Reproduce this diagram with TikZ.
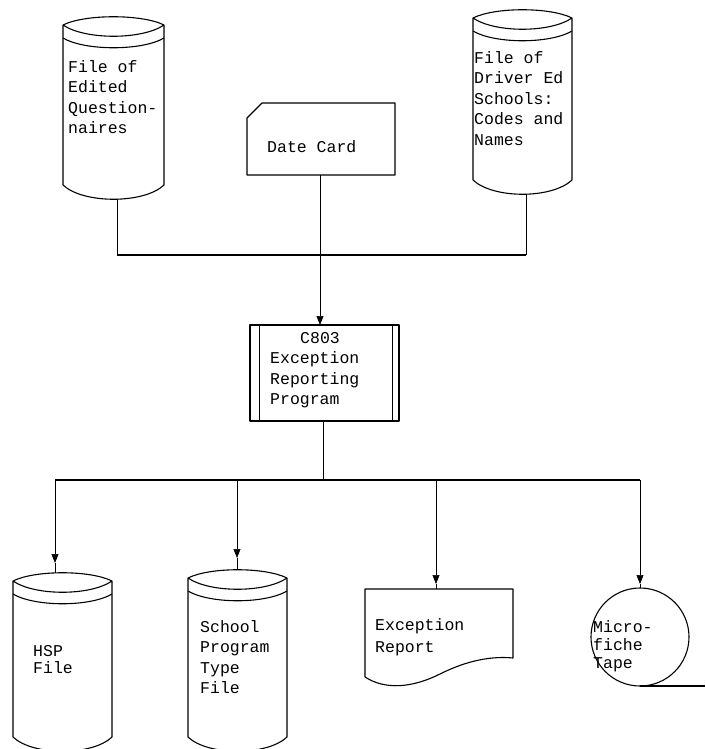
\documentclass[tikz,border=0pt]{standalone}
\usepackage{fontspec}
\setmonofont{Liberation Mono}
\usetikzlibrary{arrows.meta}
\tikzset{
 shp/.style={line width=1.1pt, line join=round},
 busline/.style={line width=2pt},
 conn/.style={line width=0.6pt},
 arr/.style={conn,-{Triangle[width=7pt,length=9pt]}},
 lbl/.style={font=\ttfamily\fontsize{16.5}{20.5}\selectfont, align=left, inner sep=0pt, anchor=north west},
}
\newcommand\drumshape[4]{%
  \draw[shp] (#1,#3) .. controls (#1+22,#3-11) and (#2-22,#3-11) .. (#2,#3)
     .. controls (#2-22,#3+15) and (#1+22,#3+15) .. (#1,#3) -- (#1,#4)
     .. controls (#1+20,#4+19) and (#2-20,#4+19) .. (#2,#4) -- (#2,#3);
  \draw[shp] (#1,#3+13) .. controls (#1+22,#3+26) and (#2-22,#3+26) .. (#2,#3+13);
}
\begin{document}
\begin{tikzpicture}[x=1pt,y=-1pt]
\useasboundingbox (0,0) rectangle (705,749);
\fill[white] (0,0) rectangle (705,749);

% ---- inputs ----
\drumshape{63}{164}{25}{185}
\node[lbl] (qtext) at (68,60) {File of\\Edited\\Question-\\naires};
\coordinate (qbot) at (117,199);

\draw[shp] (247,118) -- (262,103) -- (395,103) -- (395,175) -- (247,175) -- cycle;
\node[lbl,anchor=west] (dtext) at (267,147) {Date Card};
\coordinate (dbot) at (320,175);

\drumshape{473}{572}{18}{180}
\node[lbl] (stext) at (474,51) {File of\\Driver Ed\\Schools:\\Codes and\\Names};
\coordinate (sbot) at (526,194);

% ---- top bus ----
\coordinate (b1l) at (117,255);
\coordinate (b1m) at (320,255);
\coordinate (b1r) at (526,255);
\draw[conn] (qbot) -- (b1l);
\draw[conn] (dbot) -- (b1m);
\draw[conn] (sbot) -- (b1r);
\draw[busline] (b1l) -- (b1r);

% ---- process ----
\draw[shp] (250,325) rectangle (399,421);
\draw[conn] (259,325) -- (259,421);
\draw[conn] (392,325) -- (392,421);
\node[lbl] (ptext) at (270,332) {\hspace*{30pt}C803\\Exception\\Reporting\\Program};
\coordinate (ptop) at (320,325);
\coordinate (pbot) at (323,421);
\draw[arr] (b1m) -- (ptop);

% ---- bottom bus ----
\coordinate (b2m) at (323,480);
\coordinate (b2a) at (55,480);
\coordinate (b2b) at (237,480);
\coordinate (b2c) at (436,480);
\coordinate (b2d) at (640,480);
\draw[conn] (pbot) -- (b2m);
\draw[busline] (b2a) -- (b2d);

% ---- outputs ----
\drumshape{13}{112}{581}{737}
\node[lbl,font=\ttfamily\fontsize{16.5}{17.6}\selectfont] (htext) at (33,645) {HSP\\File};
\coordinate (harr) at (55,563);
\coordinate (htop) at (55,573);
\draw[arr] (b2a) -- (harr);
\draw[conn] (harr) -- (htop);

\drumshape{188}{287}{578}{737}
\node[lbl] (ttext) at (200,620) {School\\Program\\Type\\File};
\coordinate (tarr) at (237,558);
\coordinate (ttop) at (237,570);
\draw[arr] (b2b) -- (tarr);
\draw[conn] (tarr) -- (ttop);

\draw[shp] (365,589) -- (513,589) -- (513,658)
   .. controls (492,656) and (468,660) .. (440,674)
   .. controls (412,688) and (385,690) .. (365,677) -- cycle;
\node[lbl,font=\ttfamily\fontsize{16.5}{22}\selectfont] (etext) at (375,618) {Exception\\Report};
\coordinate (earr) at (436,584);
\coordinate (etop) at (436,589);
\draw[arr] (b2c) -- (earr);
\draw[conn] (earr) -- (etop);

\draw[shp] (640,637) circle (49);
\coordinate (mbot) at (640,686);
\coordinate (mend) at (705,686);
\draw[shp] (mbot) -- (mend);
\node[lbl,font=\ttfamily\fontsize{16.5}{18}\selectfont] (mtext) at (593,620) {Micro-\\fiche\\Tape};
\coordinate (marr) at (640,584);
\coordinate (mtop) at (640,588);
\draw[arr] (b2d) -- (marr);
\draw[conn] (marr) -- (mtop);
\end{tikzpicture}
\end{document}
